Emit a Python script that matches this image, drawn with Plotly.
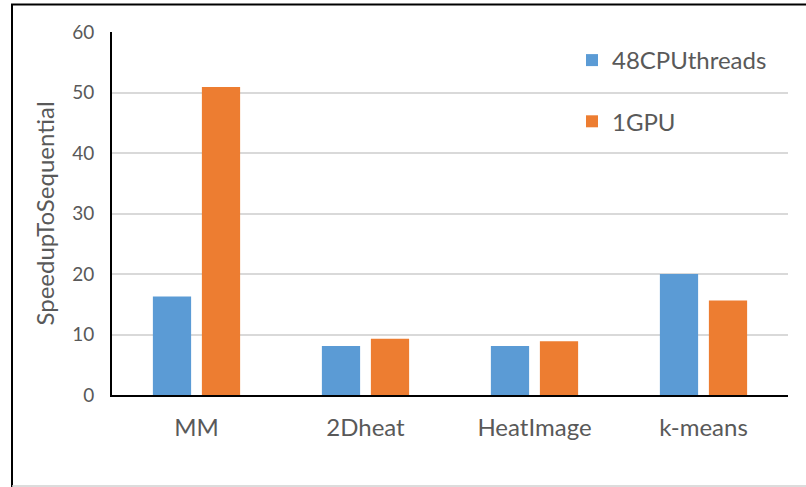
import plotly.graph_objects as go

# Benchmark categories and measured speedups over the sequential version
categories = ["MM", "2Dheat", "HeatImage", "k-means"]
cpu_48_threads = [16.3, 8.1, 8.1, 20.0]
gpu_1 = [50.9, 9.3, 8.9, 15.6]
y_ticks = [0, 10, 20, 30, 40, 50, 60]

FONT = "Lato, 'Open Sans', sans-serif"
TEXT_COLOR = "#595959"

fig = go.Figure()
fig.add_trace(go.Bar(
    x=categories, y=cpu_48_threads, name="48CPUthreads",
    marker=dict(color="#5b9bd5", line=dict(width=0)),
    legendgroup="cpu",
))
fig.add_trace(go.Bar(
    x=categories, y=gpu_1, name="1GPU",
    marker=dict(color="#ed7d31", line=dict(width=0)),
    legendgroup="gpu",
))

W, H = 806, 487
L, R, T, B = 112, 18, 32, 92
pw, ph = W - L - R, H - T - B

def px_x(x):
    return (x - L) / pw

def px_y(y):
    return 1 - (y - T) / ph

fig.update_layout(
    width=W, height=H,
    margin=dict(l=L, r=R, t=T, b=B),
    paper_bgcolor="white", plot_bgcolor="white",
    barmode="group", bargap=0.42, bargroupgap=0.22,
    font=dict(family=FONT, color=TEXT_COLOR),
    showlegend=True,
    legend=dict(
        x=px_x(572), y=px_y(38), xanchor="left", yanchor="top",
        bgcolor="rgba(0,0,0,0)", font=dict(size=24, color=TEXT_COLOR, family=FONT),
        tracegroupgap=27, itemwidth=30, traceorder="grouped",
    ),
    xaxis=dict(
        showline=True, linecolor="black", linewidth=2,
        tickfont=dict(size=24, color=TEXT_COLOR),
        ticks="", showgrid=False, ticklabelstandoff=10,
    ),
    yaxis=dict(
        range=[0, 60], tickvals=y_ticks, showline=True, linecolor="black", linewidth=2,
        gridcolor="#d9d9d9", gridwidth=2, zeroline=False,
        tickfont=dict(size=19, color=TEXT_COLOR), ticks="", ticklabelstandoff=12,
        title=dict(text="SpeedupToSequential", font=dict(size=24, color=TEXT_COLOR), standoff=11),
    ),
    shapes=[
        # outer frame: left and top in black, bottom in light gray
        dict(type="line", xref="paper", yref="paper",
             x0=px_x(12), x1=px_x(12), y0=px_y(4), y1=px_y(487),
             line=dict(color="black", width=2)),
        dict(type="line", xref="paper", yref="paper",
             x0=px_x(11), x1=px_x(806), y0=px_y(4.5), y1=px_y(4.5),
             line=dict(color="black", width=2)),
        dict(type="line", xref="paper", yref="paper",
             x0=px_x(12), x1=px_x(806), y0=px_y(486), y1=px_y(486),
             line=dict(color="#d0d0d0", width=1.5)),
    ],
)

fig.write_html("out.html")
